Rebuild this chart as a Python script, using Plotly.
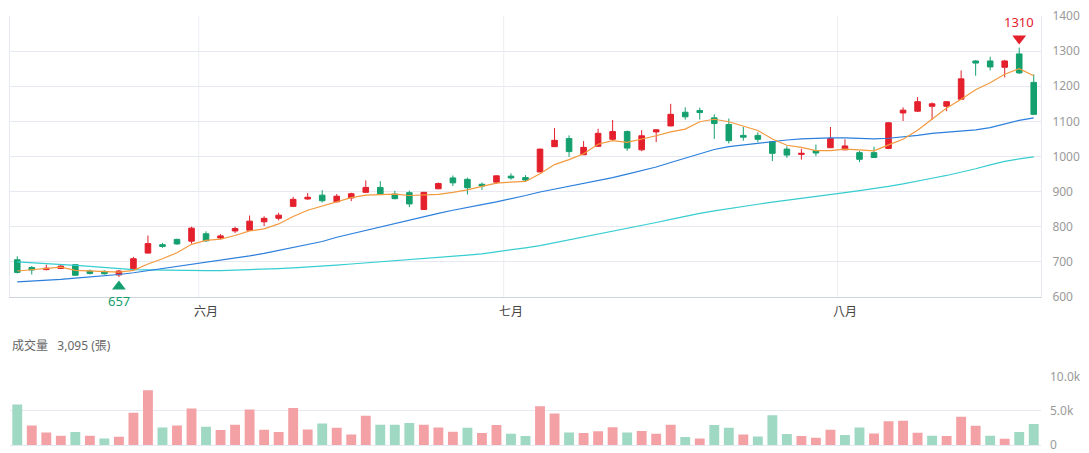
import plotly.graph_objects as go
import pandas as pd

# ---- categories (trading days) ----
holidays = ["2025-05-30"]
dates = [d.strftime("%Y-%m-%d") for d in pd.bdate_range("2025-05-13", "2025-08-20")
         if d.strftime("%Y-%m-%d") not in holidays]
month_names = ["六月", "七月", "八月"]

# ---- OHLC ----
open_ = [706, 684, 678, 681, 692, 674, 673, 663, 678, 725, 749, 764, 759, 780, 768, 788, 790, 814,
         824, 858, 879, 890, 871, 882, 898, 912, 893, 897, 849, 908, 939, 935, 921, 927, 944, 940,
         956, 1028, 1051, 1005, 1029, 1049, 1071, 1019, 1070, 1087, 1126, 1131, 1110, 1091, 1060,
         1060, 1042, 1021, 1006, 1017, 1025, 1019, 1011, 1011, 1023, 1124, 1129, 1143, 1143, 1163,
         1272, 1272, 1254, 1292, 1211]
high = [716, 688, 692, 691, 693, 678, 676, 677, 714, 775, 754, 766, 800, 787, 779, 800, 832, 830,
        840, 885, 896, 904, 893, 897, 932, 930, 902, 903, 899, 926, 946, 940, 926, 946, 952, 947,
        1022, 1081, 1060, 1044, 1079, 1104, 1074, 1075, 1078, 1150, 1140, 1139, 1120, 1108, 1084,
        1069, 1043, 1029, 1022, 1034, 1084, 1049, 1016, 1028, 1097, 1140, 1169, 1154, 1157, 1245,
        1274, 1284, 1275, 1310, 1234]
low = [667, 664, 676, 680, 660, 664, 664, 657, 676, 724, 740, 749, 752, 757, 764, 782, 789, 802,
       818, 856, 877, 869, 869, 873, 897, 890, 878, 856, 848, 907, 916, 892, 905, 922, 934, 930,
       955, 1027, 999, 1004, 1028, 1044, 1016, 1015, 1041, 1086, 1105, 1105, 1050, 1037, 1045,
       1041, 987, 996, 991, 1001, 1024, 1018, 984, 996, 1021, 1101, 1127, 1104, 1129, 1162,
       1230, 1245, 1225, 1235, 1118]
close = [670, 677, 682, 688, 662, 667, 666, 674, 709, 752, 744, 751, 796, 760, 774, 795, 816, 824,
         833, 878, 884, 874, 887, 894, 912, 893, 880, 865, 898, 923, 925, 911, 916, 945, 939, 933,
         1021, 1046, 1014, 1026, 1066, 1071, 1024, 1059, 1076, 1120, 1113, 1125, 1094, 1045, 1055,
         1049, 1009, 1004, 1009, 1010, 1051, 1030, 992, 997, 1096, 1132, 1156, 1150, 1156, 1221,
         1266, 1255, 1272, 1238, 1120]

# ---- moving averages ----
ma5 = [674, 678, 681, 685, 676, 675, 673, 671, 676, 694, 709, 726, 750, 761, 765, 775, 788, 794,
       808, 829, 847, 859, 871, 883, 890, 892, 893, 889, 890, 892, 898, 905, 915, 924, 927, 929,
       951, 977, 991, 1008, 1035, 1045, 1040, 1049, 1059, 1070, 1078, 1099, 1106, 1099, 1086,
       1074, 1050, 1032, 1026, 1017, 1017, 1021, 1019, 1016, 1033, 1049, 1075, 1106, 1138, 1163,
       1190, 1210, 1234, 1250, 1230]
ma20 = [643, 645, 647, 650, 654, 657, 660, 664, 669, 675, 681, 687, 693, 697, 703, 710, 717, 724,
        732, 740, 749, 758, 770, 780, 788, 798, 809, 819, 829, 838, 847, 856, 863, 871, 879, 889,
        899, 907, 915, 922, 930, 940, 950, 960, 970, 983, 996, 1009, 1020, 1028, 1033, 1038, 1043,
        1047, 1050, 1052, 1053, 1053, 1051, 1050, 1052, 1055, 1060, 1066, 1069, 1072, 1076, 1082,
        1092, 1103, 1110]
ma60 = [700, 698, 696, 693, 690, 687, 684, 680, 678, 677, 676, 676, 675, 675, 675, 676, 677, 679,
        681, 683, 685, 688, 691, 694, 697, 700, 703, 705, 708, 711, 714, 719, 723, 728, 735, 740,
        746, 754, 762, 770, 778, 787, 796, 804, 812, 821, 830, 838, 845, 852, 858, 864, 870, 875,
        880, 886, 892, 897, 903, 908, 915, 922, 929, 938, 946, 955, 965, 976, 986, 993, 999]

# ---- volume (張) ----
volume = [5930, 2870, 1850, 1360, 1900, 1360, 970, 1210, 4710, 8020, 2580, 2870, 5350, 2670, 2190,
          2960, 5200, 2240, 1900, 5440, 2280, 3160, 2530, 1550, 4280, 2970, 2970, 3210, 2970, 2580,
          1950, 2530, 1750, 2920, 1650, 1310, 5690, 4620, 1850, 1750, 2000, 2620, 1850, 2040, 1650,
          2960, 1170, 970, 2920, 2530, 1550, 1260, 4370, 1600, 1310, 1070, 2240, 1460, 2580, 1700,
          3500, 3540, 1800, 1360, 1310, 4130, 2810, 1360, 920, 1900, 3095]

RED = "#e3202c"
GREEN = "#14a06e"
VOL_RED = "#f4a1a6"
VOL_GREEN = "#9fd8c3"
GRID = "#e6e9f1"
FONT = "Noto Sans, Noto Sans CJK TC, sans-serif"

vol_up = [False] + [c > p for p, c in zip(close[:-1], close[1:])]
vol_colors = [VOL_RED if u else VOL_GREEN for u in vol_up]

fig = go.Figure()

fig.add_trace(go.Candlestick(
    x=dates, open=open_, high=high, low=low, close=close,
    increasing=dict(line=dict(color=RED, width=1), fillcolor=RED),
    decreasing=dict(line=dict(color=GREEN, width=1), fillcolor=GREEN),
    whiskerwidth=0, showlegend=False, xaxis="x", yaxis="y", hoverinfo="skip"))

for vals, col in [(ma60, "#37cdd0"), (ma20, "#2c7fdc"), (ma5, "#f39a3e")]:
    fig.add_trace(go.Scatter(x=dates, y=vals, mode="lines", line=dict(color=col, width=1.2),
                             showlegend=False, hoverinfo="skip", xaxis="x", yaxis="y"))

fig.add_trace(go.Bar(x=dates, y=volume, marker=dict(color=vol_colors, line=dict(width=0)),
                     width=0.68, showlegend=False, xaxis="x2", yaxis="y2", hoverinfo="skip"))

# extremes
imax = max(range(len(high)), key=lambda i: high[i])
imin = min(range(len(low)), key=lambda i: low[i])
y_lo, y_hi = 600, 1400
main_px = 281.0
u = (y_hi - y_lo) / main_px  # price units per pixel
fig.add_trace(go.Scatter(x=[dates[imax]], y=[high[imax] + 9 * u], mode="markers",
                         marker=dict(symbol="triangle-down", size=12, color=RED),
                         showlegend=False, hoverinfo="skip", xaxis="x", yaxis="y"))
fig.add_trace(go.Scatter(x=[dates[imin]], y=[low[imin] - 9.5 * u], mode="markers",
                         marker=dict(symbol="triangle-up", size=12, color=GREEN),
                         showlegend=False, hoverinfo="skip", xaxis="x", yaxis="y"))

annotations = [
    dict(x=dates[imax], y=high[imax], xref="x", yref="y", text=str(high[imax]), showarrow=False,
         yshift=26, font=dict(color=RED, size=13, family=FONT)),
    dict(x=dates[imin], y=low[imin], xref="x", yref="y", text=str(low[imin]), showarrow=False,
         yshift=-24, font=dict(color=GREEN, size=13, family=FONT)),
    dict(x=0, y=0.2308, xref="paper", yref="paper", xanchor="left", yanchor="middle",
         text="成交量\u00a0\u00a0\u00a0" + f"{volume[-1]:,}" + " (張)", showarrow=False,
         font=dict(color="#666666", size=12, family=FONT)),
]

# month starts
month_idx = [i for i in range(1, len(dates)) if dates[i][5:7] != dates[i - 1][5:7]]
shapes = [dict(type="line", xref="x", yref="y domain", x0=i - 0.5, x1=i - 0.5, y0=0, y1=1,
               line=dict(color="#eceef3", width=1), layer="below") for i in month_idx]

n = len(dates)
fig.update_layout(
    width=1089, height=453,
    margin=dict(l=10, r=48, t=16, b=8, autoexpand=False),
    paper_bgcolor="white", plot_bgcolor="white",
    font=dict(family=FONT),
    boxgap=0.45,
    bargap=0.3,
    annotations=annotations,
    shapes=shapes,
    xaxis=dict(domain=[0, 1], anchor="y", type="category", range=[-0.5, n - 0.5],
               tickvals=[dates[i] for i in month_idx], ticktext=month_names,
               showgrid=False, showline=True, linecolor="#cfd3dc", linewidth=1,
               ticks="", ticklabelstandoff=4, tickfont=dict(size=12, color="#444444"),
               rangeslider=dict(visible=False), zeroline=False, automargin=False),
    yaxis=dict(domain=[0.345, 1], anchor="x", range=[y_lo, y_hi], dtick=100, side="right",
               showgrid=True, gridcolor=GRID, showline=True, mirror=True, linecolor=GRID,
               zeroline=False, ticks="", ticklabelstandoff=8, automargin=False,
               ticklabeloverflow="allow", tickfont=dict(size=12, color="#9a9a9a")),
    xaxis2=dict(domain=[0, 1], anchor="y2", type="category", range=[-0.5, n - 0.5],
                showticklabels=False, showgrid=False, showline=True, linecolor=GRID,
                zeroline=False, ticks="", automargin=False),
    yaxis2=dict(domain=[0, 0.159], anchor="x2", range=[0, 10000], side="right",
                tickvals=[0, 5000, 10000], ticktext=["0", "5.0k", "10.0k"],
                showgrid=True, gridcolor=GRID, zeroline=False, ticks="", ticklabelstandoff=8,
                automargin=False, ticklabeloverflow="allow",
                tickfont=dict(size=12, color="#9a9a9a")),
)

fig.write_html("out.html")
